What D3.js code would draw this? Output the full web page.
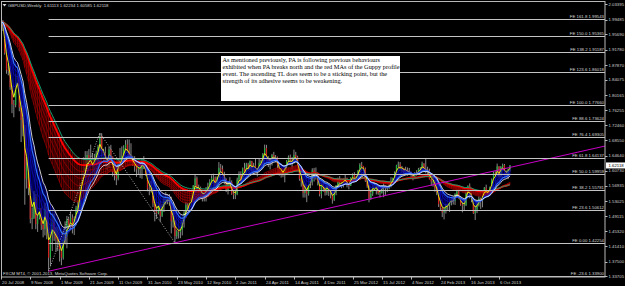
<!DOCTYPE html>
<html lang="en">

<head>
    <meta charset="UTF-8">
    <title>GBPUSD Weekly</title>
    <script src="https://d3js.org/d3.v7.min.js"></script>
    <style>
        body { margin: 0; background: #000; }
        svg { display: block; }
    </style>
</head>

<body>
    <div id="container"></div>
    <script>
        // weekly bars, first bar opens week of 20 Jul 2008
        var firstWeek = new Date(2008, 6, 20);
        var firstOpen = 1.9950;

        var closes = [
            // 2008
            1.9890, 1.9780, 1.9090, 1.8660, 1.8630, 1.8220, 1.7780, 1.7760, 1.8350, 1.8490, 1.7700, 1.7380,
            1.7180, 1.5870, 1.6220, 1.5640, 1.4840, 1.4870, 1.5390, 1.4710, 1.4870, 1.5120, 1.4690, 1.4580,
            // 2009
            1.5080, 1.4620, 1.3850, 1.4460, 1.4750, 1.4470, 1.4330, 1.4270, 1.4070, 1.3850, 1.4320, 1.4410,
            1.4830, 1.4690, 1.4870, 1.4620, 1.4850, 1.5130, 1.5170, 1.5700, 1.5950, 1.6070, 1.6150, 1.6480,
            1.6340, 1.6390, 1.6130, 1.6390, 1.6520, 1.6690, 1.6960, 1.6530, 1.6520, 1.6310, 1.6240, 1.6620,
            1.6440, 1.6040, 1.5950, 1.5880, 1.6320, 1.6330, 1.6450, 1.6660, 1.6750, 1.6590, 1.6450, 1.6390,
            1.6230, 1.6190, 1.6110, 1.6140,
            // 2010
            1.6110, 1.6310, 1.6180, 1.5980, 1.5620, 1.5610, 1.5560, 1.5240, 1.5030, 1.4990, 1.5240, 1.4920,
            1.5180, 1.5300, 1.5360, 1.5370, 1.5300, 1.4780, 1.4800, 1.4400, 1.4530, 1.4510, 1.4560, 1.4790,
            1.5000, 1.5200, 1.5160, 1.5380, 1.5320, 1.5700, 1.5880, 1.5610, 1.5640, 1.5510, 1.5420, 1.5480,
            1.5580, 1.5670, 1.5790, 1.5890, 1.5900, 1.5690, 1.5900, 1.6150, 1.6120, 1.5960, 1.5860, 1.5570,
            1.5720, 1.5790, 1.5490, 1.5450,
            // 2011
            1.5480, 1.5850, 1.5970, 1.5850, 1.6140, 1.6050, 1.6240, 1.6130, 1.6320, 1.6140, 1.6210, 1.6100,
            1.6060, 1.6280, 1.6320, 1.6500, 1.6660, 1.6390, 1.6320, 1.6300, 1.6480, 1.6420, 1.6420, 1.6220,
            1.5990, 1.6060, 1.5960, 1.6190, 1.6320, 1.6420, 1.6320, 1.6310, 1.6480, 1.6420, 1.6200, 1.5870,
            1.5800, 1.5510, 1.5590, 1.5490, 1.5800, 1.5800, 1.6090, 1.6000, 1.6030, 1.5800, 1.5480, 1.5720,
            1.5620, 1.5520, 1.5690, 1.5540,
            // 2012
            1.5520, 1.5330, 1.5520, 1.5700, 1.5810, 1.5770, 1.5770, 1.5830, 1.5880, 1.5720, 1.5690, 1.5900,
            1.5980, 1.5860, 1.5900, 1.6080, 1.6230, 1.6200, 1.6130, 1.5820, 1.5680, 1.5360, 1.5490, 1.5690,
            1.5600, 1.5690, 1.5500, 1.5510, 1.5680, 1.5700, 1.5630, 1.5640, 1.5700, 1.5820, 1.5890, 1.6020,
            1.6220, 1.6240, 1.6150, 1.6150, 1.6060, 1.6100, 1.6030, 1.6040, 1.5990, 1.5880, 1.6020, 1.6010,
            1.6110, 1.6130, 1.6260, 1.6130,
            // 2013
            1.6050, 1.6080, 1.5860, 1.5800, 1.5810, 1.5630, 1.5530, 1.5220, 1.5130, 1.5010, 1.5090, 1.5190,
            1.5200, 1.5340, 1.5340, 1.5300, 1.5480, 1.5550, 1.5380, 1.5210, 1.5180, 1.5200, 1.5520, 1.5690,
            1.5490, 1.5380, 1.4990, 1.5080, 1.5210, 1.5360, 1.5320, 1.5510, 1.5640, 1.5560, 1.5500, 1.5650,
            1.5850, 1.6020, 1.6000, 1.6190, 1.5950, 1.6170, 1.6220, 1.6030, 1.5980, 1.6110, 1.62118
        ];

        var highs = [
            2.0010, 1.9935, 1.9830, 1.9150, 1.8820, 1.8760, 1.8260, 1.7890, 1.8560, 1.8720, 1.8530, 1.7850,
            1.7750, 1.7250, 1.6660, 1.6270, 1.5730, 1.5140, 1.5560, 1.5480, 1.5020, 1.5370, 1.5130, 1.4750,
            1.5250, 1.5150, 1.4740, 1.4650, 1.4990, 1.4980, 1.4640, 1.4630, 1.4390, 1.4100, 1.4550, 1.4780,
            1.4920, 1.4880, 1.5030, 1.4960, 1.4910, 1.5180, 1.5330, 1.5770, 1.6020, 1.6420, 1.6580, 1.6580,
            1.6630, 1.6745, 1.6530, 1.6510, 1.6590, 1.6740, 1.7043, 1.7040, 1.6640, 1.6690, 1.6370, 1.6690,
            1.6740, 1.6440, 1.6140, 1.6060, 1.6360, 1.6660, 1.6700, 1.6730, 1.6860, 1.6880, 1.6877, 1.6780,
            1.6460, 1.6450, 1.6260, 1.6240,
            1.6170, 1.6400, 1.6450, 1.6340, 1.6130, 1.5770, 1.5820, 1.5640, 1.5260, 1.5140, 1.5390, 1.5300,
            1.5230, 1.5380, 1.5530, 1.5480, 1.5480, 1.5410, 1.5250, 1.4780, 1.4570, 1.4820, 1.4630, 1.4830,
            1.5070, 1.5280, 1.5250, 1.5490, 1.5440, 1.5710, 1.5995, 1.5930, 1.5720, 1.5670, 1.5600, 1.5530,
            1.5660, 1.5770, 1.5860, 1.5960, 1.6000, 1.5930, 1.5930, 1.6298, 1.6250, 1.6210, 1.6050, 1.5880,
            1.5810, 1.5910, 1.5830, 1.5530,
            1.5650, 1.5900, 1.6060, 1.6060, 1.6160, 1.6280, 1.6280, 1.6280, 1.6340, 1.6330, 1.6280, 1.6390,
            1.6150, 1.6380, 1.6360, 1.6530, 1.6746, 1.6740, 1.6450, 1.6340, 1.6510, 1.6560, 1.6480, 1.6440,
            1.6240, 1.6110, 1.6070, 1.6210, 1.6350, 1.6470, 1.6490, 1.6430, 1.6618, 1.6560, 1.6460, 1.6240,
            1.5900, 1.5800, 1.5740, 1.5640, 1.5830, 1.5870, 1.6140, 1.6150, 1.6160, 1.5960, 1.5810, 1.5770,
            1.5790, 1.5670, 1.5700, 1.5700,
            1.5630, 1.5560, 1.5550, 1.5710, 1.5900, 1.5940, 1.5870, 1.5880, 1.5990, 1.5900, 1.5750, 1.5910,
            1.6010, 1.6040, 1.5950, 1.6100, 1.6270, 1.6302, 1.6200, 1.6160, 1.5850, 1.5690, 1.5600, 1.5720,
            1.5780, 1.5700, 1.5700, 1.5560, 1.5710, 1.5780, 1.5700, 1.5670, 1.5730, 1.5910, 1.5900, 1.6060,
            1.6230, 1.6310, 1.6300, 1.6200, 1.6130, 1.6180, 1.6160, 1.6150, 1.6050, 1.5940, 1.6040, 1.6090,
            1.6150, 1.6170, 1.6310, 1.6270,
            1.6381, 1.6180, 1.6130, 1.5870, 1.5920, 1.5840, 1.5740, 1.5550, 1.5280, 1.5130, 1.5120, 1.5230,
            1.5230, 1.5360, 1.5410, 1.5410, 1.5500, 1.5600, 1.5620, 1.5430, 1.5260, 1.5250, 1.5540, 1.5700,
            1.5752, 1.5500, 1.5390, 1.5180, 1.5280, 1.5420, 1.5390, 1.5530, 1.5660, 1.5720, 1.5580, 1.5670,
            1.5880, 1.6060, 1.6060, 1.6260, 1.6190, 1.6200, 1.6260, 1.6250, 1.6080, 1.6130, 1.62234
        ];

        var lows = [
            1.9820, 1.9660, 1.9050, 1.8560, 1.8520, 1.8150, 1.7550, 1.7446, 1.7700, 1.8260, 1.7600, 1.6810,
            1.6960, 1.5206, 1.5620, 1.5450, 1.4730, 1.4580, 1.4840, 1.4580, 1.4510, 1.4830, 1.4560, 1.4370,
            1.4420, 1.4320, 1.3503, 1.3640, 1.4020, 1.4280, 1.4010, 1.4020, 1.3750, 1.3657, 1.3800, 1.4190,
            1.4090, 1.4580, 1.4550, 1.4470, 1.4430, 1.4680, 1.4970, 1.5050, 1.5600, 1.5810, 1.5990, 1.6090,
            1.6180, 1.6300, 1.6050, 1.6000, 1.6230, 1.6290, 1.6580, 1.6430, 1.6380, 1.6170, 1.6090, 1.6150,
            1.6340, 1.5930, 1.5830, 1.5708, 1.5830, 1.6110, 1.6170, 1.6350, 1.6560, 1.6540, 1.6380, 1.6330,
            1.6200, 1.6050, 1.5920, 1.5980,
            1.5890, 1.5870, 1.6120, 1.5950, 1.5550, 1.5450, 1.5520, 1.5150, 1.4780, 1.4840, 1.4960, 1.4770,
            1.4890, 1.5020, 1.5210, 1.5220, 1.5180, 1.4470, 1.4620, 1.4231, 1.4330, 1.4340, 1.4350, 1.4420,
            1.4620, 1.4870, 1.5050, 1.5120, 1.5190, 1.5320, 1.5650, 1.5570, 1.5530, 1.5390, 1.5290, 1.5290,
            1.5290, 1.5400, 1.5580, 1.5660, 1.5740, 1.5650, 1.5650, 1.5950, 1.6020, 1.5810, 1.5730, 1.5530,
            1.5470, 1.5630, 1.5460, 1.5350,
            1.5350, 1.5450, 1.5790, 1.5740, 1.5850, 1.5930, 1.5990, 1.6080, 1.6100, 1.6050, 1.5980, 1.6060,
            1.5930, 1.6060, 1.6190, 1.6220, 1.6480, 1.6370, 1.6170, 1.6110, 1.6210, 1.6350, 1.6290, 1.6110,
            1.5950, 1.5900, 1.5910, 1.5780, 1.6050, 1.6220, 1.6220, 1.6110, 1.6260, 1.6340, 1.6150, 1.5820,
            1.5670, 1.5390, 1.5390, 1.5272, 1.5440, 1.5630, 1.5700, 1.5800, 1.5850, 1.5700, 1.5420, 1.5370,
            1.5540, 1.5440, 1.5450, 1.5430,
            1.5370, 1.5234, 1.5300, 1.5450, 1.5640, 1.5710, 1.5630, 1.5650, 1.5780, 1.5650, 1.5600, 1.5700,
            1.5820, 1.5810, 1.5800, 1.5870, 1.6030, 1.6110, 1.6050, 1.5790, 1.5640, 1.5268, 1.5330, 1.5430,
            1.5560, 1.5470, 1.5460, 1.5390, 1.5490, 1.5400, 1.5460, 1.5530, 1.5600, 1.5650, 1.5750, 1.5840,
            1.5990, 1.6160, 1.6110, 1.6050, 1.5970, 1.5960, 1.5950, 1.5970, 1.5870, 1.5830, 1.5860, 1.5950,
            1.5980, 1.6060, 1.6110, 1.6110,
            1.6010, 1.5970, 1.5850, 1.5690, 1.5670, 1.5540, 1.5450, 1.5150, 1.5070, 1.4890, 1.4831, 1.4980,
            1.5070, 1.5020, 1.5190, 1.5210, 1.5200, 1.5380, 1.5360, 1.5180, 1.5010, 1.5070, 1.5170, 1.5500,
            1.5370, 1.5270, 1.4970, 1.4814, 1.4990, 1.5160, 1.5100, 1.5140, 1.5420, 1.5530, 1.5420, 1.5430,
            1.5620, 1.5830, 1.5930, 1.5990, 1.5900, 1.5910, 1.6130, 1.5890, 1.5890, 1.5860, 1.60585
        ];

        var dateTicks = ["20 Jul 2008", "9 Nov 2008", "1 Mar 2009", "21 Jun 2009", "11 Oct 2009", "31 Jan 2010",
            "23 May 2010", "12 Sep 2010", "2 Jan 2011", "24 Apr 2011", "14 Aug 2011", "4 Dec 2011",
            "25 Mar 2012", "15 Jul 2012", "4 Nov 2012", "24 Feb 2013", "16 Jun 2013", "6 Oct 2013"];

        var priceTicks = [2.03395, 1.99485, 1.95690, 1.91780, 1.87870, 1.84075, 1.80165, 1.76255, 1.72460,
            1.68550, 1.64640, 1.60730, 1.56935, 1.53025, 1.49115, 1.45320, 1.41410, 1.37500, 1.33705];

        // fibonacci expansion levels
        var feRatios = ["161.8", "150.0", "138.2", "123.6", "100.0", "88.6", "76.4", "61.8", "50.0", "38.2", "23.6", "0.00", "-23.6"];
        var fePrices = [1.99543, 1.95365, 1.91187, 1.86018, 1.77660, 1.73624, 1.69305, 1.64137, 1.59959, 1.55781, 1.50612, 1.42254, 1.33900];

        // zigzag anchors of the expansion and the ascending trendline
        var pivotDates = ["18 Jan 2009", "2 Aug 2009", "16 May 2010"];
        var pivotPrices = [1.3503, 1.7043, 1.4231];

        // guppy periods
        var shortPeriods = [3, 5, 8, 10, 12, 15];
        var longPeriods = [30, 35, 40, 45, 50, 55];
        var slowPeriod = 60;

        var titleText = "GBPUSD,Weekly  1.61113 1.62234 1.60585 1.62118";
        var lastPrice = 1.62118;
        var noteLines = [
            "As mentioned previously, PA is following previous behaviours",
            "exhibited when PA breaks north and the red MAs of the Guppy profile",
            "event. The ascending TL does seem to be a sticking point, but the",
            "strength of its adhesive seems to be weakening."
        ];

        var parseDay = d3.timeParse("%d %b %Y");

        var bars = closes.map(function (c, i) {
            return {
                date: d3.timeWeek.offset(firstWeek, i),
                open: i ? closes[i - 1] : firstOpen,
                close: c,
                high: highs[i],
                low: lows[i]
            };
        });

        function ema(values, n) {
            var k = 2 / (n + 1), prev = values[0];
            return values.map(function (v, i) {
                prev = i ? prev + k * (v - prev) : v;
                return prev;
            });
        }

        var W = 625, H = 286;
        var plotRight = 605, plotBottom = 277;

        var x = d3.scaleTime()
            .domain([parseDay("20 Jul 2008"), parseDay("6 Oct 2013")])
            .range([1, 499]);
        var y = d3.scaleLinear()
            .domain([1.33705, 2.03395])
            .range([276.4, 4.3]);

        var svg = d3.select("#container").append("svg")
            .attr("width", W)
            .attr("height", H)
            .style("font-family", "'Liberation Sans', Arial, sans-serif");

        svg.append("rect").attr("width", W).attr("height", H).attr("fill", "#000");

        svg.append("defs").append("clipPath").attr("id", "plot")
            .append("rect").attr("x", 2).attr("y", 2)
            .attr("width", plotRight - 2).attr("height", plotBottom - 2);

        var plot = svg.append("g").attr("clip-path", "url(#plot)");

        // candles
        plot.append("g").selectAll("line")
            .data(bars)
            .enter()
            .append("line")
            .attr("x1", (d) => x(d.date))
            .attr("x2", (d) => x(d.date))
            .attr("y1", (d) => y(Math.max(d.high, d.open, d.close)))
            .attr("y2", (d) => y(Math.min(d.low, d.open, d.close)))
            .attr("stroke", "#a8a8a8")
            .attr("stroke-width", 0.8);

        plot.append("g").selectAll("rect")
            .data(bars)
            .enter()
            .append("rect")
            .attr("x", (d) => x(d.date) - 0.6)
            .attr("width", 1.2)
            .attr("y", (d) => y(Math.max(d.open, d.close)))
            .attr("height", (d) => Math.max(0.6, Math.abs(y(d.open) - y(d.close))))
            .attr("fill", (d) => d.close >= d.open ? "#20b040" : "#d02020");

        var shortEmas = shortPeriods.map((p) => ema(closes, p));
        var longEmas = longPeriods.map((p) => ema(closes, p));
        var slowEma = ema(closes, slowPeriod);

        var line = d3.line()
            .x((v, i) => x(bars[i].date))
            .y((v) => y(v));

        // guppy bands, drawn as per-bar histograms
        function band(fromSeries, toSeries, color) {
            plot.append("g").selectAll("line")
                .data(bars)
                .enter()
                .append("line")
                .attr("x1", (d) => x(d.date))
                .attr("x2", (d) => x(d.date))
                .attr("y1", (d, i) => y(fromSeries[i]))
                .attr("y2", (d, i) => y(toSeries[i]))
                .attr("stroke", color)
                .attr("stroke-width", 1.1);
        }

        band(shortEmas[0], shortEmas[shortEmas.length - 1], "#000090");
        band(longEmas[0], slowEma, "#6a0000");

        longEmas.forEach(function (s, i) {
            plot.append("path").datum(s).attr("d", line).attr("fill", "none")
                .attr("stroke", i == longEmas.length - 1 ? "#ff0000" : "#d00000")
                .attr("stroke-width", i == longEmas.length - 1 ? 1.8 : 0.5);
        });
        plot.append("path").datum(slowEma).attr("d", line).attr("fill", "none")
            .attr("stroke", "#10a070").attr("stroke-width", 1);

        shortEmas.forEach(function (s, i) {
            var color = "#1818e8", width = 0.5;
            if (i == 0) { color = "#ffff00"; width = 0.9; }
            if (i == 4) { color = "#3070ff"; width = 1.2; }
            if (i == shortEmas.length - 1) { color = "#ffffff"; width = 0.8; }
            plot.append("path").datum(s).attr("d", line).attr("fill", "none")
                .attr("stroke", color).attr("stroke-width", width);
        });

        // fibonacci expansion lines
        var feStart = x(parseDay(pivotDates[0]));
        var fe = svg.append("g");
        fePrices.forEach(function (p, i) {
            fe.append("line")
                .attr("x1", feStart).attr("x2", plotRight)
                .attr("y1", Math.round(y(p)) + 0.5).attr("y2", Math.round(y(p)) + 0.5)
                .attr("stroke", "#c4c4c4").attr("stroke-width", 1);
            fe.append("text")
                .attr("x", plotRight - 1).attr("y", Math.round(y(p)) - 0.6)
                .attr("text-anchor", "end")
                .attr("font-size", 4.3)
                .attr("fill", "#d8d8d8")
                .text("FE " + feRatios[i] + " " + p.toFixed(5));
        });

        // zigzag of the expansion
        var pivots = pivotDates.map((d, i) => [x(parseDay(d)), y(pivotPrices[i])]);
        plot.append("path")
            .attr("d", d3.line()(pivots))
            .attr("fill", "none")
            .attr("stroke", "#d0d0d0")
            .attr("stroke-width", 0.8)
            .attr("stroke-dasharray", "1,1.6");

        // ascending trendline through the two lows, extended to the right edge
        var t0 = parseDay(pivotDates[0]), t1 = parseDay(pivotDates[2]);
        var perMs = (pivotPrices[2] - pivotPrices[0]) / (t1 - t0);
        var tEnd = x.invert(plotRight);
        plot.append("line")
            .attr("x1", x(t0)).attr("y1", y(pivotPrices[0]))
            .attr("x2", plotRight).attr("y2", y(pivotPrices[0] + perMs * (tEnd - t0)))
            .attr("stroke", "#c800c8")
            .attr("stroke-width", 1);

        // frame
        svg.append("rect")
            .attr("x", 1.5).attr("y", 1.5)
            .attr("width", plotRight - 1.5).attr("height", plotBottom - 1.5)
            .attr("fill", "none").attr("stroke", "#b8b8b8").attr("stroke-width", 1);

        // price axis
        var pa = svg.append("g");
        priceTicks.forEach(function (p) {
            pa.append("line")
                .attr("x1", plotRight).attr("x2", plotRight + 2.5)
                .attr("y1", Math.round(y(p)) + 0.5).attr("y2", Math.round(y(p)) + 0.5)
                .attr("stroke", "#b8b8b8");
            pa.append("text")
                .attr("x", plotRight + 3.5).attr("y", Math.max(4.5, y(p)) + 1.6)
                .attr("font-size", 4.3)
                .attr("fill", "#d0d0d0")
                .text(p.toFixed(5));
        });

        // current price marker
        pa.append("rect")
            .attr("x", plotRight + 1).attr("y", y(lastPrice) - 3)
            .attr("width", 19).attr("height", 6)
            .attr("fill", "#ffffff");
        pa.append("text")
            .attr("x", plotRight + 3.5).attr("y", y(lastPrice) + 1.6)
            .attr("font-size", 4.3)
            .attr("fill", "#000")
            .text(lastPrice.toFixed(5));

        // time axis
        var ta = svg.append("g");
        dateTicks.forEach(function (s) {
            var tx = Math.round(x(parseDay(s))) + 0.5;
            ta.append("line")
                .attr("x1", tx).attr("x2", tx)
                .attr("y1", plotBottom).attr("y2", plotBottom + 2.5)
                .attr("stroke", "#b8b8b8");
            ta.append("text")
                .attr("x", tx + 0.5).attr("y", 284)
                .attr("font-size", 4.3)
                .attr("fill", "#d0d0d0")
                .text(s);
        });

        // title and copyright
        svg.append("path").attr("d", "M2.5,4 L6.5,4 L4.5,6.5 Z").attr("fill", "#d8d8d8");
        svg.append("text")
            .attr("x", 8).attr("y", 6.6)
            .attr("font-size", 4.3)
            .attr("fill", "#d8d8d8")
            .attr("xml:space", "preserve")
            .text(titleText);
        svg.append("text")
            .attr("x", 3).attr("y", 274.6)
            .attr("font-size", 4.3)
            .attr("fill", "#d8d8d8")
            .text("FXCM MT4, \u00a9 2001-2013, MetaQuotes Software Corp.");

        // note box
        svg.append("rect")
            .attr("x", 221).attr("y", 56)
            .attr("width", 179).attr("height", 45)
            .attr("fill", "#ffffff");
        svg.append("g").selectAll("text")
            .data(noteLines)
            .enter()
            .append("text")
            .attr("x", 222.5)
            .attr("y", (d, i) => 61.8 + i * 7)
            .attr("font-family", "'Liberation Serif', 'Times New Roman', serif")
            .attr("font-size", 6.3)
            .attr("fill", "#000")
            .text((d) => d);
    </script>
</body>

</html>
